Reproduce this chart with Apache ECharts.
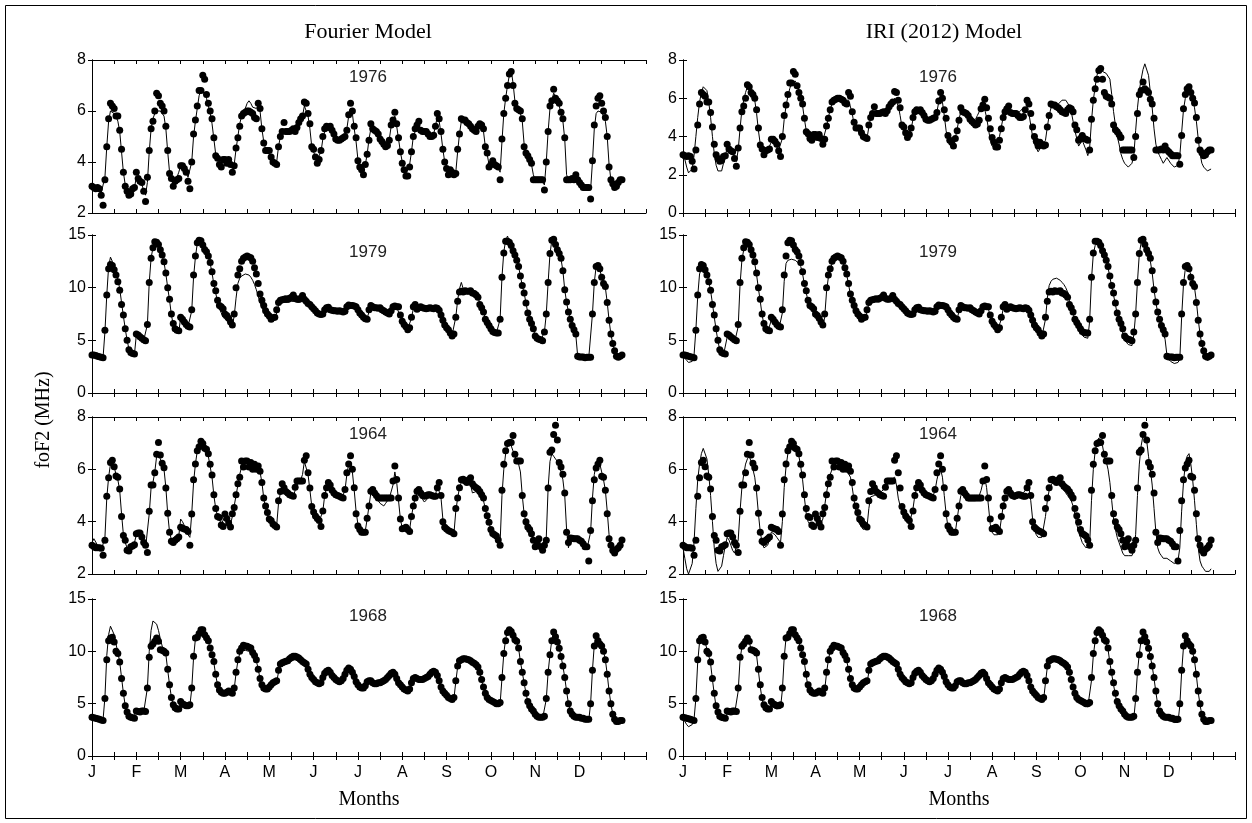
<!DOCTYPE html>
<html><head><meta charset="utf-8">
<script src="https://cdn.jsdelivr.net/npm/echarts/dist/echarts.min.js"></script>
<style>html,body{margin:0;padding:0;background:#fff}#c{width:1252px;height:823px}</style>
</head><body><div id="c"></div><script>
const monthLabels = ['J','F','M','A','M','J','J','A','S','O','N','D'];

// ---- Observed hourly foF2 (24 values per month) ----
const obs1976 = [
[3.05,3.0,2.95,3.0,2.95,2.7,2.3,3.3,4.6,5.7,6.3,6.2,6.1,5.8,5.8,5.25,4.5,3.6,3.05,2.85,2.7,2.75,2.95,3.0],
[3.6,3.35,3.25,3.2,2.85,2.45,3.4,4.45,5.3,5.6,6.0,6.7,6.6,6.3,6.2,6.0,5.4,4.45,3.55,3.35,3.05,3.25,3.3,3.35],
[3.85,3.85,3.75,3.6,3.25,2.95,4.0,5.1,5.65,6.2,6.8,6.8,7.4,7.25,6.65,6.3,6.0,5.7,4.95,4.25,4.15,3.9,3.8,4.1],
[4.1,3.95,4.1,3.9,3.6,3.85,4.55,4.95,5.4,5.8,5.9,5.95,6.0,6.0,5.95,5.9,5.75,5.7,6.3,6.1,5.3,4.75,4.45,4.45],
[4.45,4.2,4.0,3.95,3.9,4.6,5.0,5.2,5.55,5.2,5.2,5.2,5.25,5.3,5.2,5.35,5.55,5.7,5.8,6.35,6.3,5.9,5.5,4.6],
[4.5,4.2,3.95,4.1,4.45,5.0,5.3,5.4,5.35,5.4,5.25,5.1,4.9,4.85,4.85,4.9,4.95,5.0,5.25,5.85,6.3,6.0,5.4,4.95],
[4.05,3.8,3.7,3.5,3.9,4.3,4.85,5.5,5.3,5.25,5.2,5.1,4.9,4.8,4.7,4.6,4.65,4.85,5.45,5.65,5.95,5.5,4.95,4.4],
[3.95,3.7,3.45,3.45,3.8,4.4,5.0,5.3,5.45,5.6,5.25,5.2,5.2,5.2,5.1,5.0,5.0,5.05,5.4,5.9,5.7,5.2,4.5,4.0],
[3.75,3.5,3.7,3.6,3.5,3.55,4.5,5.1,5.7,5.65,5.65,5.55,5.5,5.4,5.3,5.25,5.2,5.4,5.5,5.45,5.3,4.6,4.35,3.8],
[3.9,4.05,3.9,3.85,3.8,3.3,4.9,5.9,6.5,7.0,7.45,7.55,7.0,6.3,6.1,6.05,6.0,5.7,4.6,4.35,4.25,4.1,3.95,3.3],
[3.3,3.3,3.3,3.3,3.3,2.9,4.0,5.2,6.2,6.4,6.85,6.5,6.4,6.3,5.95,5.7,4.95,3.3,3.3,3.3,3.35,3.3,3.5,3.3],
[3.2,3.1,3.0,3.0,3.0,3.0,2.55,4.05,5.45,6.2,6.5,6.6,6.3,6.0,5.75,5.0,3.8,3.3,3.15,3.0,3.05,3.2,3.3,3.3]];
const obs1979 = [
[3.6,3.6,3.55,3.5,3.45,3.4,3.35,5.95,9.3,11.8,12.2,12.1,11.7,11.2,10.55,9.75,8.4,7.4,6.1,5.0,4.1,3.85,3.75,3.7],
[5.6,5.5,5.35,5.2,5.05,4.95,6.5,10.5,12.8,13.8,14.35,14.3,14.1,13.6,13.1,12.45,11.4,10.0,8.9,7.5,6.6,6.1,5.95,5.9],
[7.2,7.0,6.75,6.5,6.33,6.27,7.9,11.2,13.0,14.27,14.5,14.45,14.05,13.63,13.4,13.0,12.4,11.5,10.4,9.7,8.8,8.3,8.2,8.0],
[7.5,7.35,7.1,6.75,6.45,7.5,10.0,11.2,11.8,12.5,12.8,12.9,13.0,12.9,12.85,12.5,11.9,11.3,10.4,9.4,8.8,8.3,7.8,7.5],
[7.3,7.0,7.15,7.2,7.9,8.6,8.8,8.85,8.9,8.95,8.9,9.0,9.1,9.3,9.0,8.9,8.9,9.0,9.25,8.9,8.7,8.5,8.4,8.2],
[8.0,7.8,7.6,7.5,7.45,7.5,7.9,8.1,8.15,7.9,7.85,7.8,7.8,7.75,7.8,7.75,7.7,7.75,8.2,8.35,8.3,8.3,8.25,8.2],
[7.9,7.6,7.4,7.2,7.05,7.0,7.9,8.3,8.2,8.1,8.1,8.05,8.1,7.9,7.8,7.7,7.6,7.5,7.8,8.2,8.25,8.2,8.2,7.4],
[6.8,6.5,6.3,6.0,6.2,7.2,8.2,8.4,7.95,8.1,8.2,8.1,8.05,8.0,8.05,8.1,8.05,8.0,8.1,8.05,7.85,7.4,6.9,6.45],
[6.2,6.0,5.7,5.4,5.6,7.2,8.7,9.6,9.65,9.6,9.7,9.65,9.65,9.7,9.5,9.45,9.3,9.1,8.4,8.1,7.7,7.0,6.7,6.4],
[6.1,5.85,5.75,5.7,5.7,7.0,11.0,13.3,14.4,14.4,14.3,14.0,13.5,13.1,12.6,12.0,11.1,10.2,9.5,8.55,7.6,7.0,6.6,6.1],
[5.4,5.2,5.1,5.05,4.95,5.8,7.5,10.5,13.25,14.5,14.6,14.1,13.6,13.25,12.8,11.6,9.8,8.65,7.7,7.0,6.4,6.0,5.6,3.5],
[3.41,3.41,3.41,3.35,3.4,3.4,3.4,7.5,10.5,12.0,12.1,11.8,11.0,10.4,10.1,8.6,6.9,5.6,4.7,4.0,3.5,3.4,3.5,3.6]];
const obs1964 = [
[3.1,3.05,3.0,3.0,3.0,2.98,2.72,3.29,4.97,5.68,6.26,6.35,6.1,5.75,5.7,5.25,4.2,3.47,3.29,2.91,2.88,3.04,3.07,3.12],
[3.54,3.57,3.57,3.41,3.2,3.1,2.82,4.4,5.4,5.4,5.87,6.58,7.03,6.55,6.23,6.06,5.29,4.32,3.6,3.25,3.2,3.29,3.35,3.41],
[3.79,3.75,3.72,3.7,3.62,3.1,4.29,5.6,6.2,6.71,6.86,7.07,6.99,6.81,6.77,6.6,6.19,5.78,5.03,4.5,4.2,4.16,3.87,3.82],
[4.29,4.12,3.95,3.8,4.3,4.54,5.03,5.45,5.7,6.32,6.09,6.32,6.32,6.09,6.26,6.0,6.19,6.0,6.13,5.93,5.5,4.9,4.6,4.35],
[4.1,4.04,3.91,3.85,3.8,4.8,5.15,5.45,5.3,5.15,5.1,5.03,5.0,4.97,5.32,5.55,5.55,5.55,5.55,6.35,6.52,5.87,5.29,4.58],
[4.37,4.22,4.12,4.04,3.82,4.41,5.0,5.3,5.5,5.4,5.2,5.1,5.03,5.0,4.97,4.93,4.9,5.23,5.87,6.2,6.52,6.0,5.3,4.3],
[3.83,3.7,3.6,3.6,3.6,4.13,4.6,5.16,5.23,5.1,5.0,4.9,4.9,4.9,4.9,4.9,4.9,4.9,4.9,5.55,6.13,5.61,4.9,4.1],
[3.73,3.75,3.79,3.7,3.62,4.2,4.6,4.9,5.16,5.23,5.1,5.0,4.97,5.0,5.03,5.03,5.0,4.97,4.97,5.3,5.5,5.0,4.0,3.79],
[3.72,3.66,3.62,3.6,3.54,4.5,4.9,5.3,5.6,5.62,5.55,5.5,5.6,5.68,5.45,5.35,5.3,5.25,5.15,5.03,4.9,4.5,4.23,3.98],
[3.7,3.55,3.5,3.45,3.3,3.1,5.2,6.19,6.71,6.99,7.03,7.03,7.29,6.58,6.32,6.32,6.32,5.0,4.3,4.0,3.8,3.7,3.54,3.29],
[3.04,3.2,3.35,3.04,2.91,3.1,3.29,5.29,6.65,6.74,7.33,7.68,7.12,6.26,6.09,5.81,5.1,3.6,3.2,3.38,3.37,3.35,3.35,3.35],
[3.29,3.25,3.16,3.04,3.04,2.5,3.66,4.8,5.6,6.05,6.2,6.35,5.74,5.7,5.2,4.3,3.35,3.1,2.9,2.8,2.95,3.0,3.1,3.3]];
const obs1968 = [
[3.7,3.65,3.6,3.55,3.5,3.45,3.4,5.5,9.2,11.0,11.27,11.34,10.9,10.0,9.8,8.98,7.4,6.0,4.8,4.2,3.8,3.7,3.65,3.6],
[4.3,4.25,4.2,4.3,4.3,4.25,6.5,9.43,10.48,10.7,10.96,11.27,10.96,10.16,10.1,10.0,9.84,8.3,6.8,5.6,4.9,4.6,4.5,4.5],
[5.2,5.0,4.9,4.8,4.8,4.9,6.5,9.52,11.27,11.34,11.7,12.07,12.07,11.59,11.3,11.0,10.32,9.68,9.04,7.8,6.8,6.3,6.1,6.0],
[6.0,6.1,6.2,6.1,6.0,6.5,8.0,9.2,10.0,10.32,10.57,10.5,10.48,10.4,10.32,9.9,9.6,9.2,8.3,7.4,6.8,6.5,6.4,6.4],
[6.6,6.8,7.0,7.1,7.2,8.2,8.8,8.9,8.98,9.05,9.1,9.3,9.43,9.52,9.52,9.45,9.36,9.2,9.04,8.9,8.8,8.3,7.8,7.5],
[7.3,7.1,7.0,6.9,7.0,7.5,7.9,8.1,8.2,8.0,7.7,7.5,7.3,7.2,7.1,7.2,7.4,7.8,8.2,8.4,8.3,8.0,7.6,7.1],
[6.8,6.6,6.5,6.5,6.7,7.1,7.2,7.2,7.0,6.9,6.9,7.0,7.0,7.1,7.2,7.3,7.5,7.7,7.9,8.0,7.8,7.4,7.0,6.8],
[6.6,6.4,6.3,6.2,6.4,7.0,7.4,7.5,7.4,7.3,7.3,7.3,7.4,7.5,7.6,7.8,8.0,8.1,8.0,7.7,7.2,6.6,6.2,6.0],
[5.8,5.6,5.5,5.4,5.6,7.2,8.6,9.1,9.2,9.3,9.3,9.25,9.2,9.1,8.95,8.85,8.73,8.5,8.0,7.3,6.6,6.0,5.6,5.4],
[5.3,5.2,5.1,5.0,5.0,5.1,7.5,9.8,11.0,11.8,12.07,11.9,11.53,11.11,10.96,10.32,9.04,8.0,7.0,6.0,5.2,4.8,4.5,4.3],
[4.0,3.8,3.7,3.7,3.7,3.8,5.5,8.0,9.68,11.0,11.85,11.4,10.9,10.3,9.5,8.6,7.5,6.2,5.0,4.3,4.0,3.8,3.7,3.7],
[3.7,3.6,3.6,3.5,3.5,3.5,5.0,8.2,10.5,11.5,11.0,10.7,10.5,10.0,9.2,7.8,6.2,5.0,4.0,3.5,3.3,3.3,3.4,3.4]];

// ---- Fourier model curves ----
const fourier1976 = [
[3.0,3.0,3.0,3.0,2.9,2.8,2.8,3.4,4.6,5.6,6.0,6.0,5.9,5.8,5.6,5.2,4.4,3.6,3.1,2.9,2.8,2.8,2.9,3.0],
[3.4,3.3,3.2,3.1,2.9,2.7,3.2,4.4,5.3,5.7,5.9,6.0,6.0,6.0,5.9,5.8,5.3,4.4,3.6,3.3,3.2,3.3,3.4,3.6],
[3.85,3.9,3.8,3.6,3.4,3.4,4.0,5.0,5.6,6.1,6.6,6.8,6.8,6.7,6.5,6.2,5.9,5.5,4.9,4.3,4.1,4.0,3.9,4.0],
[4.1,4.0,4.0,3.9,3.8,3.9,4.5,5.0,5.5,5.8,6.0,6.1,6.3,6.4,6.3,6.15,6.1,6.1,6.2,6.0,5.3,4.8,4.5,4.4],
[4.3,4.1,4.0,3.95,4.0,4.6,5.0,5.2,5.3,5.2,5.2,5.2,5.25,5.3,5.3,5.4,5.5,5.6,5.8,6.2,6.2,5.8,5.3,4.6],
[4.4,4.2,4.1,4.1,4.4,4.9,5.2,5.3,5.3,5.3,5.2,5.1,5.0,4.9,4.9,4.9,4.95,5.0,5.3,5.8,6.1,5.9,5.3,4.8],
[4.1,3.9,3.75,3.7,3.9,4.3,4.9,5.3,5.25,5.2,5.1,5.0,4.9,4.8,4.7,4.6,4.7,4.9,5.4,5.6,5.8,5.4,4.9,4.4],
[4.0,3.7,3.5,3.5,3.9,4.4,5.0,5.2,5.3,5.3,5.2,5.2,5.1,5.1,5.0,5.0,5.0,5.1,5.4,5.8,5.6,5.1,4.5,4.0],
[3.8,3.6,3.6,3.6,3.55,3.6,4.4,5.1,5.6,5.7,5.6,5.5,5.45,5.4,5.3,5.25,5.25,5.35,5.4,5.4,5.2,4.6,4.3,3.9],
[3.9,3.95,3.9,3.85,3.75,3.6,4.8,5.9,6.5,7.0,7.4,7.6,7.1,6.4,6.1,6.0,5.9,5.6,4.7,4.4,4.2,4.1,3.9,3.5],
[3.3,3.3,3.3,3.3,3.2,3.1,4.0,5.2,6.1,6.4,6.7,6.6,6.4,6.2,5.9,5.6,4.9,3.5,3.3,3.3,3.3,3.3,3.4,3.3],
[3.2,3.1,3.0,2.95,2.9,2.9,2.9,4.0,5.3,5.9,6.0,6.0,5.95,5.8,5.6,5.0,3.9,3.3,3.1,3.0,3.0,3.1,3.2,3.3]];
const fourier1979 = [
[3.6,3.6,3.5,3.5,3.4,3.4,3.4,5.8,9.3,12.0,12.9,12.5,12.0,11.4,10.8,9.9,8.6,7.3,6.1,5.0,4.2,3.9,3.8,3.7],
[5.5,5.4,5.3,5.2,5.0,4.9,6.5,10.5,12.8,13.8,14.3,14.2,14.0,13.5,13.0,12.4,11.3,10.0,8.8,7.4,6.5,6.0,5.9,5.8],
[7.1,6.9,6.7,6.5,6.3,6.2,7.8,11.0,12.9,14.2,14.5,14.4,14.0,13.6,13.3,12.9,12.3,11.4,10.3,9.5,8.6,8.0,7.6,7.2],
[7.0,6.9,6.8,6.6,6.4,7.3,9.0,10.4,10.9,11.1,11.2,11.3,11.3,11.2,11.0,10.7,10.3,9.8,9.2,8.6,8.1,7.8,7.5,7.3],
[7.2,7.0,7.0,7.1,7.6,8.3,8.5,8.55,8.6,8.6,8.6,8.65,8.7,8.75,8.7,8.6,8.6,8.6,8.7,8.6,8.5,8.3,8.2,8.0],
[7.8,7.6,7.5,7.4,7.4,7.5,7.8,8.0,8.0,7.9,7.8,7.75,7.7,7.7,7.7,7.7,7.7,7.7,8.0,8.2,8.2,8.2,8.1,8.0],
[7.8,7.5,7.3,7.1,7.0,7.1,7.7,8.1,8.1,8.0,8.0,8.0,8.0,7.9,7.8,7.7,7.6,7.6,7.8,8.1,8.2,8.1,8.0,7.3],
[6.8,6.5,6.3,6.1,6.2,7.1,8.0,8.2,8.0,8.0,8.1,8.0,8.0,8.0,8.0,8.0,8.0,8.0,8.0,8.0,7.8,7.4,6.9,6.5],
[6.2,6.0,5.7,5.5,5.6,7.2,8.8,9.9,10.5,9.9,9.7,9.65,9.6,9.6,9.5,9.4,9.3,9.1,8.5,8.1,7.7,7.1,6.7,6.4],
[6.1,5.85,5.75,5.7,5.7,7.0,11.0,13.4,14.5,14.9,14.4,14.0,13.5,13.1,12.6,12.0,11.1,10.2,9.5,8.55,7.6,7.0,6.6,6.1],
[5.4,5.2,5.1,5.0,4.9,5.8,7.5,10.5,13.2,14.5,14.6,14.1,13.6,13.2,12.7,11.6,9.8,8.6,7.7,7.0,6.4,6.0,5.5,3.5],
[3.4,3.4,3.35,3.15,3.3,3.35,3.3,7.5,10.5,12.0,12.0,11.7,11.0,10.4,10.0,8.6,6.9,5.6,4.7,4.0,3.5,3.4,3.5,3.6]];
const fourier1964 = [
[3.2,3.35,3.3,3.1,3.0,2.9,2.9,3.4,4.9,5.7,6.2,6.3,6.1,5.8,5.6,5.2,4.3,3.5,3.2,3.0,2.95,3.0,3.1,3.2],
[3.5,3.55,3.5,3.4,3.2,3.0,3.0,4.3,5.3,5.5,5.9,6.5,6.6,6.4,6.2,6.0,5.3,4.3,3.6,3.3,3.25,3.3,3.35,3.45],
[4.1,4.0,3.85,3.7,3.5,3.4,4.3,5.5,6.2,6.7,6.9,7.0,6.95,6.8,6.7,6.5,6.1,5.7,5.0,4.5,4.2,4.1,3.9,3.85],
[4.2,4.1,4.0,3.9,4.2,4.6,5.0,5.4,5.8,6.1,6.2,6.25,6.25,6.2,6.2,6.1,6.1,6.0,6.0,5.9,5.5,4.9,4.5,4.3],
[4.1,4.0,3.9,3.85,3.85,4.7,5.1,5.3,5.2,5.1,5.05,5.0,4.95,4.95,5.2,5.4,5.5,5.6,5.8,6.3,6.3,5.8,5.2,4.6],
[4.4,4.2,4.1,4.0,3.95,4.4,5.0,5.3,5.4,5.3,5.15,5.05,5.0,4.95,4.9,4.85,4.85,5.2,5.8,6.2,6.3,5.9,5.2,4.4],
[3.9,3.7,3.6,3.6,3.65,4.1,4.6,5.1,5.2,5.05,4.9,4.8,4.7,4.65,4.6,4.7,4.8,4.9,4.9,5.4,5.9,5.5,4.8,4.1],
[3.75,3.75,3.75,3.7,3.7,4.2,4.6,4.9,5.1,5.1,5.0,4.85,4.75,4.8,4.9,4.95,4.95,4.95,5.0,5.4,5.4,4.9,4.1,3.85],
[3.7,3.65,3.6,3.6,3.55,4.4,4.9,5.3,5.5,5.55,5.5,5.45,5.5,5.4,5.1,5.05,5.15,5.1,5.0,4.95,4.8,4.5,4.2,3.95],
[3.7,3.55,3.5,3.45,3.3,3.2,5.0,6.0,6.6,6.9,7.0,6.9,6.7,6.5,6.35,6.2,5.9,5.0,4.3,4.0,3.8,3.7,3.5,3.3],
[3.1,3.2,3.3,3.1,2.95,3.1,3.4,5.3,6.3,6.6,6.5,6.4,6.3,6.1,5.9,5.6,5.0,3.7,3.0,3.3,3.35,3.35,3.3,3.3],
[3.3,3.2,3.15,3.05,2.95,2.9,3.6,4.9,5.8,6.2,6.3,6.2,5.9,5.6,5.2,4.4,3.5,3.1,2.9,2.85,2.9,3.0,3.1,3.2]];
const fourier1968 = [
[3.7,3.6,3.5,3.5,3.4,3.4,3.5,5.6,9.6,11.6,12.4,12.3,11.6,10.7,9.9,9.0,7.5,6.0,4.8,4.2,3.8,3.7,3.6,3.6],
[4.2,4.2,4.2,4.2,4.2,4.2,6.5,10.0,12.0,12.9,12.9,12.6,12.0,11.2,10.5,10.1,9.7,8.2,6.8,5.6,4.9,4.6,4.5,4.5],
[5.1,4.9,4.8,4.7,4.7,4.8,6.4,9.4,11.2,11.4,11.7,12.0,12.0,11.6,11.2,10.9,10.3,9.6,8.9,7.7,6.8,6.3,6.1,6.0],
[5.9,6.0,6.1,6.0,5.9,6.4,7.9,9.1,9.8,10.0,10.1,10.1,10.1,10.0,9.9,9.7,9.5,9.1,8.3,7.4,6.8,6.5,6.4,6.4],
[6.5,6.7,6.9,7.0,7.1,8.0,8.5,8.6,8.7,8.8,8.9,9.0,9.1,9.2,9.2,9.1,9.0,8.9,8.8,8.7,8.6,8.2,7.7,7.4],
[7.2,7.0,6.9,6.8,6.9,7.4,7.7,7.9,8.0,7.8,7.6,7.4,7.2,7.1,7.0,7.1,7.3,7.6,8.0,8.2,8.1,7.8,7.5,7.0],
[6.7,6.5,6.4,6.4,6.6,7.0,7.1,7.1,6.9,6.8,6.8,6.9,6.9,7.0,7.1,7.2,7.4,7.6,7.8,7.9,7.7,7.3,6.9,6.7],
[6.5,6.3,6.2,6.1,6.3,6.9,7.3,7.4,7.3,7.2,7.2,7.2,7.3,7.4,7.5,7.7,7.9,8.0,7.9,7.6,7.1,6.5,6.1,5.9],
[5.7,5.5,5.4,5.3,5.5,7.1,8.5,9.0,9.1,9.2,9.2,9.15,9.1,9.0,8.9,8.8,8.65,8.4,7.9,7.2,6.5,5.9,5.5,5.3],
[5.2,5.1,5.0,4.9,4.9,5.0,7.4,9.8,11.2,11.9,12.1,11.9,11.5,11.1,10.9,10.3,9.0,8.0,7.0,6.0,5.2,4.8,4.5,4.2],
[3.9,3.8,3.7,3.6,3.6,3.7,5.4,8.0,9.7,11.1,11.9,11.5,11.0,10.3,9.5,8.6,7.5,6.2,5.0,4.3,4.0,3.8,3.7,3.6],
[3.6,3.5,3.5,3.4,3.4,3.4,5.0,8.2,10.6,11.6,11.2,10.8,10.5,10.0,9.2,7.8,6.2,5.0,4.0,3.5,3.3,3.3,3.4,3.4]];

// ---- IRI (2012) model curves ----
const iri1976 = [
[3.0,2.8,2.4,2.1,2.0,2.3,3.0,4.0,5.0,5.8,6.3,6.6,6.7,6.4,5.8,5.0,4.0,3.1,2.5,2.2,2.1,2.2,2.6,3.0],
[3.4,3.5,3.4,3.2,2.9,2.7,3.3,4.4,5.4,5.9,6.3,6.6,6.6,6.4,6.2,5.9,5.2,4.3,3.6,3.3,3.2,3.2,3.3,3.5],
[3.7,3.7,3.6,3.5,3.3,3.2,3.9,4.9,5.6,6.1,6.5,6.8,6.9,6.9,6.7,6.4,6.0,5.6,4.9,4.3,4.0,3.9,3.8,3.9],
[4.0,3.9,3.9,3.8,3.8,3.9,4.5,5.0,5.4,5.7,5.85,5.9,6.0,6.0,6.0,5.95,5.9,5.8,5.9,5.8,5.2,4.6,4.4,4.3],
[4.2,4.1,3.95,3.9,3.9,4.5,5.0,5.2,5.3,5.2,5.2,5.2,5.25,5.3,5.3,5.35,5.5,5.6,5.8,6.0,6.0,5.6,5.1,4.5],
[4.3,4.1,4.0,4.1,4.4,4.9,5.2,5.3,5.3,5.3,5.2,5.1,5.0,4.95,4.9,4.9,4.95,5.05,5.3,5.8,6.1,5.8,5.1,4.3],
[3.8,3.6,3.4,3.5,3.9,4.4,4.9,5.3,5.3,5.2,5.1,5.0,4.9,4.8,4.8,4.9,5.1,5.3,5.5,5.5,5.4,5.0,4.4,3.8],
[3.5,3.4,3.4,3.6,4.0,4.5,5.0,5.3,5.4,5.4,5.3,5.2,5.2,5.2,5.2,5.3,5.4,5.5,5.5,5.4,5.2,4.6,4.0,3.6],
[3.4,3.2,3.3,3.5,3.6,3.8,4.5,5.1,5.5,5.6,5.6,5.65,5.7,5.8,5.9,5.9,5.9,5.8,5.6,5.3,4.8,4.3,3.9,3.5],
[3.6,3.8,3.7,3.3,3.0,3.4,4.8,5.9,6.6,7.2,7.5,7.6,7.4,7.3,7.3,7.3,7.0,6.2,5.3,4.6,4.0,3.6,3.1,2.8],
[2.6,2.5,2.4,2.4,2.6,3.0,4.3,5.5,6.4,7.0,7.5,7.8,7.8,7.2,6.3,5.5,4.4,3.6,3.2,3.0,2.8,2.6,2.7,2.9],
[2.8,2.6,2.5,2.4,2.3,2.5,3.0,4.2,5.4,6.0,6.4,6.5,6.3,6.0,5.5,4.8,3.9,3.1,2.6,2.4,2.3,2.2,2.2,2.3]];
const iri1979 = [
[3.5,3.3,3.1,2.9,2.8,3.0,3.6,6.0,9.2,11.3,11.8,11.9,11.7,11.2,10.6,9.7,8.5,7.2,6.0,4.9,4.1,3.8,3.6,3.6],
[5.3,5.2,5.1,5.0,4.8,4.7,6.3,10.3,12.6,13.6,14.1,14.2,14.0,13.5,12.9,12.3,11.2,9.9,8.7,7.4,6.5,6.0,5.8,5.8],
[6.9,6.6,6.4,6.2,6.0,6.0,7.6,10.6,12.3,12.6,12.7,12.7,12.7,12.6,12.5,12.3,12.0,11.3,10.3,9.5,8.7,8.1,7.8,7.6],
[7.3,7.1,6.9,6.6,6.3,7.2,9.6,11.0,11.7,12.3,12.6,12.7,12.8,12.8,12.7,12.4,11.8,11.2,10.3,9.3,8.6,8.1,7.6,7.2],
[7.0,6.8,6.9,7.0,7.7,8.5,8.8,8.9,9.0,9.0,9.0,9.0,9.1,9.2,9.0,8.9,8.9,9.0,9.1,8.9,8.6,8.4,8.2,8.0],
[7.8,7.6,7.5,7.4,7.4,7.5,7.9,8.1,8.1,8.0,7.9,7.8,7.8,7.8,7.8,7.8,7.8,7.8,8.1,8.3,8.3,8.3,8.2,8.0],
[7.7,7.4,7.2,7.0,6.9,7.0,7.8,8.2,8.2,8.1,8.1,8.1,8.1,7.9,7.8,7.7,7.6,7.5,7.8,8.2,8.3,8.2,8.0,7.2],
[6.7,6.4,6.2,6.0,6.1,7.0,8.0,8.3,8.0,8.1,8.2,8.1,8.1,8.1,8.1,8.1,8.1,8.2,8.3,8.3,8.0,7.5,6.9,6.4],
[6.0,5.8,5.5,5.3,5.4,7.0,9.0,10.2,10.6,10.8,10.9,10.9,10.8,10.7,10.5,10.3,10.0,9.6,8.8,8.2,7.6,6.9,6.4,6.0],
[5.8,5.5,5.3,5.2,5.2,6.8,10.8,13.2,14.0,14.2,14.1,13.9,13.5,13.0,12.5,11.9,11.0,10.1,9.3,8.4,7.5,6.9,6.3,5.7],
[5.0,4.8,4.6,4.5,4.5,5.5,7.5,10.6,13.2,14.3,14.5,14.1,13.6,13.1,12.5,11.4,9.8,8.6,7.6,6.9,6.2,5.7,5.1,3.6],
[3.2,3.0,2.9,2.8,2.8,2.9,3.2,7.2,10.3,11.8,12.1,11.8,11.2,10.6,10.0,8.7,7.0,5.6,4.6,3.8,3.3,3.1,3.2,3.3]];
const iri1964 = [
[3.0,2.6,2.2,2.0,2.0,2.4,3.2,4.5,5.6,6.2,6.6,6.8,6.8,6.4,5.8,5.0,4.0,3.0,2.4,2.1,2.1,2.3,2.7,3.1],
[3.4,3.3,3.1,2.9,2.8,2.8,3.3,4.4,5.3,5.8,6.2,6.4,6.5,6.3,6.0,5.7,5.1,4.3,3.6,3.2,3.0,3.0,3.1,3.3],
[3.6,3.6,3.5,3.4,3.3,3.2,4.0,5.3,6.1,6.6,6.9,7.0,7.0,6.9,6.7,6.5,6.1,5.6,4.9,4.3,4.0,3.9,3.8,3.8],
[3.9,3.85,3.8,3.8,4.1,4.6,5.1,5.5,5.8,6.0,6.05,6.05,6.05,6.05,6.05,6.0,6.0,5.95,5.9,5.7,5.3,4.8,4.4,4.1],
[3.9,3.8,3.7,3.7,3.8,4.5,4.95,5.0,5.0,5.05,5.1,5.15,5.16,5.2,5.3,5.4,5.5,5.6,5.6,5.7,5.4,4.9,4.6,4.5],
[4.3,4.1,4.0,3.9,3.9,4.5,5.0,5.3,5.3,5.2,5.1,5.0,5.0,4.95,4.9,4.9,5.0,5.2,5.6,5.9,6.0,5.7,5.0,4.3],
[3.8,3.6,3.5,3.5,3.6,4.1,4.6,5.0,5.1,5.0,4.9,4.8,4.8,4.8,4.8,4.8,4.9,5.0,5.2,5.5,5.7,5.3,4.6,3.9],
[3.6,3.5,3.5,3.5,3.6,4.1,4.6,4.9,5.0,5.0,4.95,4.9,4.85,4.85,4.9,4.95,5.0,5.1,5.2,5.4,5.3,4.8,4.1,3.7],
[3.5,3.4,3.4,3.4,3.4,4.2,4.8,5.2,5.4,5.5,5.5,5.5,5.45,5.4,5.3,5.2,5.1,5.0,4.9,4.8,4.6,4.3,3.9,3.6],
[3.4,3.2,3.1,3.0,3.0,3.1,4.8,6.0,6.7,7.0,7.2,7.2,6.9,6.5,6.3,6.0,5.5,4.8,4.1,3.7,3.4,3.2,3.0,2.8],
[2.7,2.7,2.7,2.7,2.7,2.9,3.5,5.0,6.2,6.9,7.3,7.4,7.1,6.5,6.0,5.4,4.5,3.6,3.0,2.8,2.7,2.6,2.6,2.6],
[2.6,2.5,2.5,2.4,2.4,2.5,3.0,4.4,5.5,6.2,6.5,6.6,6.2,5.6,4.8,3.9,3.0,2.5,2.3,2.2,2.1,2.1,2.1,2.2]];
const iri1968 = [
[3.6,3.3,3.0,2.8,2.8,3.0,3.5,5.5,9.0,10.9,11.3,11.3,10.9,10.2,9.6,8.8,7.3,5.9,4.7,4.0,3.6,3.4,3.4,3.5],
[4.1,4.0,4.0,4.0,4.0,4.0,6.2,9.2,10.4,10.7,11.0,11.2,10.9,10.2,10.0,9.9,9.6,8.1,6.6,5.4,4.7,4.4,4.3,4.3],
[4.9,4.7,4.6,4.5,4.5,4.6,6.3,9.4,11.3,11.4,11.8,12.0,12.0,11.6,11.2,10.9,10.2,9.6,8.9,7.6,6.6,6.1,5.9,5.8],
[5.8,5.9,6.0,5.9,5.8,6.3,7.9,9.2,10.0,10.3,10.5,10.4,10.4,10.3,10.2,9.8,9.5,9.1,8.2,7.3,6.6,6.3,6.2,6.2],
[6.4,6.6,6.8,6.9,7.0,8.0,8.7,8.9,9.0,9.0,9.1,9.3,9.4,9.5,9.5,9.4,9.3,9.2,9.0,8.8,8.7,8.2,7.7,7.3],
[7.1,6.9,6.8,6.7,6.8,7.4,7.8,8.0,8.1,7.9,7.6,7.4,7.2,7.1,7.0,7.1,7.3,7.7,8.1,8.3,8.2,7.9,7.4,6.9],
[6.6,6.4,6.3,6.3,6.5,7.0,7.2,7.2,7.0,6.9,6.9,7.0,7.0,7.1,7.2,7.3,7.5,7.7,7.9,7.9,7.7,7.2,6.8,6.6],
[6.4,6.2,6.1,6.0,6.2,6.9,7.4,7.5,7.4,7.3,7.3,7.3,7.4,7.5,7.6,7.8,8.0,8.1,7.9,7.6,7.0,6.4,6.0,5.8],
[5.6,5.4,5.3,5.2,5.4,7.0,8.5,9.0,9.1,9.2,9.2,9.2,9.1,9.0,8.9,8.8,8.7,8.4,7.9,7.2,6.4,5.8,5.4,5.2],
[5.0,4.9,4.8,4.7,4.7,4.8,7.2,9.6,11.0,11.7,11.9,11.8,11.5,11.1,10.8,10.2,8.9,7.8,6.8,5.8,5.0,4.6,4.3,4.0],
[3.8,3.6,3.5,3.5,3.5,3.6,5.4,8.0,9.8,11.1,11.7,11.5,11.0,10.3,9.5,8.6,7.4,6.1,4.9,4.2,3.9,3.7,3.6,3.5],
[3.5,3.4,3.3,3.2,3.2,3.2,4.8,8.0,10.4,11.3,11.0,10.7,10.4,9.9,9.1,7.7,6.1,4.9,3.9,3.4,3.2,3.2,3.3,3.3]];

const years = ['1976','1979','1964','1968'];
const obsByRow = [obs1976, obs1979, obs1964, obs1968];
const fourierByRow = [fourier1976, fourier1979, fourier1964, fourier1968];
const iriByRow = [iri1976, iri1979, iri1964, iri1968];
const yRangeLeft = [[2,8,2],[0,15,5],[2,8,2],[0,15,5]];
const yRangeRight = [[0,8,2],[0,15,5],[2,8,2],[0,15,5]];

// layout
const colLeft = [92, 683], colWidth = [554, 552];
const rowTop = [60, 235, 417, 599], rowHeight = [153, 158, 157, 157];
const yearX = [368, 938];

const flat = a => [].concat(...a);
const toPts = a => flat(a).map((v, i) => [i, v]);

const grid = [], xAxis = [], yAxis = [], series = [], graphic = [];
const tickStyle = {inside: true, length: 4, lineStyle: {color: '#000', width: 1}};
const lineStyle = {lineStyle: {color: '#000', width: 1}};
let gi = 0;
for (let r = 0; r < 4; r++) {
  for (let c = 0; c < 2; c++) {
    grid.push({left: colLeft[c], top: rowTop[r], width: colWidth[c], height: rowHeight[r], containLabel: false});
    xAxis.push({type: 'value', gridIndex: gi, min: 0, max: 300, interval: 12, position: 'bottom',
      axisLine: lineStyle, axisTick: tickStyle, splitLine: {show: false},
      axisLabel: {show: r === 3, color: '#000', fontSize: 16, fontFamily: 'Liberation Sans', margin: 9,
        formatter: v => (v % 24 === 0 && v < 288) ? monthLabels[v / 24] : ''}});
    xAxis.push({type: 'value', gridIndex: gi, min: 0, max: 300, interval: 12, position: 'top',
      axisLine: lineStyle, axisTick: tickStyle, splitLine: {show: false}, axisLabel: {show: false}});
    const yr = c === 0 ? yRangeLeft[r] : yRangeRight[r];
    yAxis.push({type: 'value', gridIndex: gi, min: yr[0], max: yr[1], interval: yr[2], position: 'left',
      axisLine: {show: true, lineStyle: {color: '#000', width: 1}}, axisTick: tickStyle, splitLine: {show: false},
      axisLabel: {color: '#000', fontSize: 16, fontFamily: 'Liberation Sans', margin: 6}});
    yAxis.push({type: 'value', gridIndex: gi, min: yr[0], max: yr[1], interval: yr[2], position: 'right',
      axisLine: {show: true, lineStyle: {color: '#000', width: 1}}, axisTick: tickStyle, splitLine: {show: false},
      axisLabel: {show: false}});
    const model = c === 0 ? fourierByRow[r] : iriByRow[r];
    series.push({type: 'line', xAxisIndex: 2 * gi, yAxisIndex: 2 * gi, data: toPts(model),
      showSymbol: false, symbol: 'none', lineStyle: {color: '#000', width: 1}, z: 2, silent: true});
    series.push({type: 'scatter', xAxisIndex: 2 * gi, yAxisIndex: 2 * gi, data: toPts(obsByRow[r]),
      symbol: 'circle', symbolSize: 7, itemStyle: {color: '#000', opacity: 1}, z: 3, silent: true});
    graphic.push({type: 'text', x: yearX[c], y: rowTop[r] + 17, z: 10,
      style: {text: years[r], fill: '#222', font: '17px "Liberation Sans"', textAlign: 'center', textVerticalAlign: 'middle', align: 'center', verticalAlign: 'middle'}});
    gi++;
  }
}
const serif = '"Liberation Serif", "Times New Roman", serif';
graphic.push({type: 'rect', shape: {x: 5.5, y: 5.5, width: 1241, height: 813}, style: {fill: 'none', stroke: '#000', lineWidth: 1}, z: 0});
graphic.push({type: 'text', x: 368, y: 32, style: {text: 'Fourier Model', fill: '#000', font: '22px ' + serif, textAlign: 'center', textVerticalAlign: 'middle', align: 'center', verticalAlign: 'middle'}});
graphic.push({type: 'text', x: 944, y: 32, style: {text: 'IRI (2012) Model', fill: '#000', font: '22px ' + serif, textAlign: 'center', textVerticalAlign: 'middle', align: 'center', verticalAlign: 'middle'}});
graphic.push({type: 'text', x: 369, y: 800, style: {text: 'Months', fill: '#000', font: '20px ' + serif, textAlign: 'center', textVerticalAlign: 'middle', align: 'center', verticalAlign: 'middle'}});
graphic.push({type: 'text', x: 959, y: 800, style: {text: 'Months', fill: '#000', font: '20px ' + serif, textAlign: 'center', textVerticalAlign: 'middle', align: 'center', verticalAlign: 'middle'}});
graphic.push({type: 'text', x: 44, y: 420, rotation: Math.PI / 2, style: {text: 'foF2 (MHz)', fill: '#000', font: '20px ' + serif, textAlign: 'center', textVerticalAlign: 'middle', align: 'center', verticalAlign: 'middle'}});

const chart = echarts.init(document.getElementById('c'), null, {renderer: 'canvas'});
chart.setOption({animation: false, backgroundColor: '#fff', grid, xAxis, yAxis, series, graphic});
</script></body></html>
